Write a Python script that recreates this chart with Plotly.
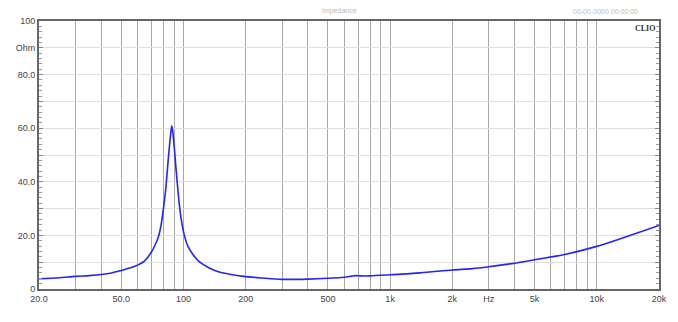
import plotly.graph_objects as go

freq_hz = [20, 25, 30, 35, 40, 45, 50, 55, 60, 64.5, 70, 73, 76, 78, 80, 82, 83.5, 85,
           86.5, 87.8, 89, 90.5, 92, 94, 96, 98.5, 101, 105, 112, 120, 132, 145, 170, 195,
           240, 300, 400, 500, 600, 650, 680, 720, 800, 1000, 1400, 2000, 2500, 3000, 3500,
           4000, 5000, 7000, 10000, 14000, 20000]
impedance_ohm = [3.8, 4.2, 4.7, 5.0, 5.4, 6.0, 6.9, 7.8, 8.9, 10.3, 13.8, 16.5, 20.0, 24.0,
                 30.0, 37.0, 44.0, 51.0, 57.0, 60.9, 58.0, 52.0, 45.0, 37.0, 30.0, 24.0,
                 20.0, 16.0, 12.5, 10.0, 8.0, 6.6, 5.4, 4.7, 4.1, 3.6, 3.7, 4.0, 4.4, 4.8,
                 5.0, 4.9, 4.9, 5.3, 6.0, 7.1, 7.6, 8.3, 9.0, 9.6, 10.9, 12.9, 15.9, 19.6, 23.7]

x_grid = [20, 30, 40, 50, 60, 70, 80, 90, 100, 200, 300, 400, 500, 600, 700, 800, 900,
          1000, 2000, 3000, 4000, 5000, 6000, 7000, 8000, 9000, 10000, 20000]
x_labels = {20: "20.0", 50: "50.0", 100: "100", 200: "200", 500: "500", 1000: "1k",
            2000: "2k", 3000: "Hz", 5000: "5k", 10000: "10k", 20000: "20k"}
y_grid = [0, 10, 20, 30, 40, 50, 60, 70, 80, 90, 100]
y_labels = {0: "0", 20: "20.0", 40: "40.0", 60: "60.0", 80: "80.0", 90: "Ohm", 100: "100"}

fig = go.Figure()
fig.add_trace(go.Scatter(x=freq_hz, y=impedance_ohm, mode="lines",
                         line=dict(color="#2424ff", width=1.6, shape="spline", smoothing=0.8),
                         hoverinfo="skip", showlegend=False))

font = dict(family="Liberation Sans, Arial, sans-serif", size=9, color="#444")
fig.update_layout(
    width=678, height=322,
    margin=dict(l=39, r=19, t=21, b=33),
    paper_bgcolor="white", plot_bgcolor="white",
    font=font,
    xaxis=dict(type="log", range=[1.30103, 4.30103],
               tickvals=x_grid, ticktext=[x_labels.get(v, "") for v in x_grid],
               showgrid=True, gridcolor="#a8a8a8", gridwidth=1,
               showline=True, linecolor="#666", linewidth=2, mirror=True,
               ticks="", tickfont=font, zeroline=False),
    yaxis=dict(range=[0, 100],
               tickvals=y_grid, ticktext=[y_labels.get(v, "") for v in y_grid],
               showgrid=True, gridcolor="#dedede", gridwidth=1,
               showline=True, linecolor="#666", linewidth=2, mirror="ticks",
               ticks="inside", ticklen=4, tickcolor="#888",
               minor=dict(dtick=2, ticks="inside", ticklen=3, tickcolor="#999", showgrid=False),
               tickfont=font, zeroline=False),
)
fig.add_annotation(x=1, y=1, xref="paper", yref="paper", xanchor="right", yanchor="top",
                   text="<b>CLIO</b>", showarrow=False, xshift=-2, yshift=-1,
                   font=dict(family="Liberation Serif, serif", size=8, color="#333"))
fig.add_annotation(x=0.485, y=1, xref="paper", yref="paper", xanchor="center", yanchor="bottom",
                   text="Impedance", showarrow=False, yshift=4,
                   font=dict(family="Liberation Sans, sans-serif", size=7, color="#bbb"))
fig.add_annotation(x=0.97, y=1, xref="paper", yref="paper", xanchor="right", yanchor="bottom",
                   text="00-00-0000 00:00:00", showarrow=False, yshift=4,
                   font=dict(family="Liberation Sans, sans-serif", size=7, color="#bbb"))
fig.write_html("out.html")
